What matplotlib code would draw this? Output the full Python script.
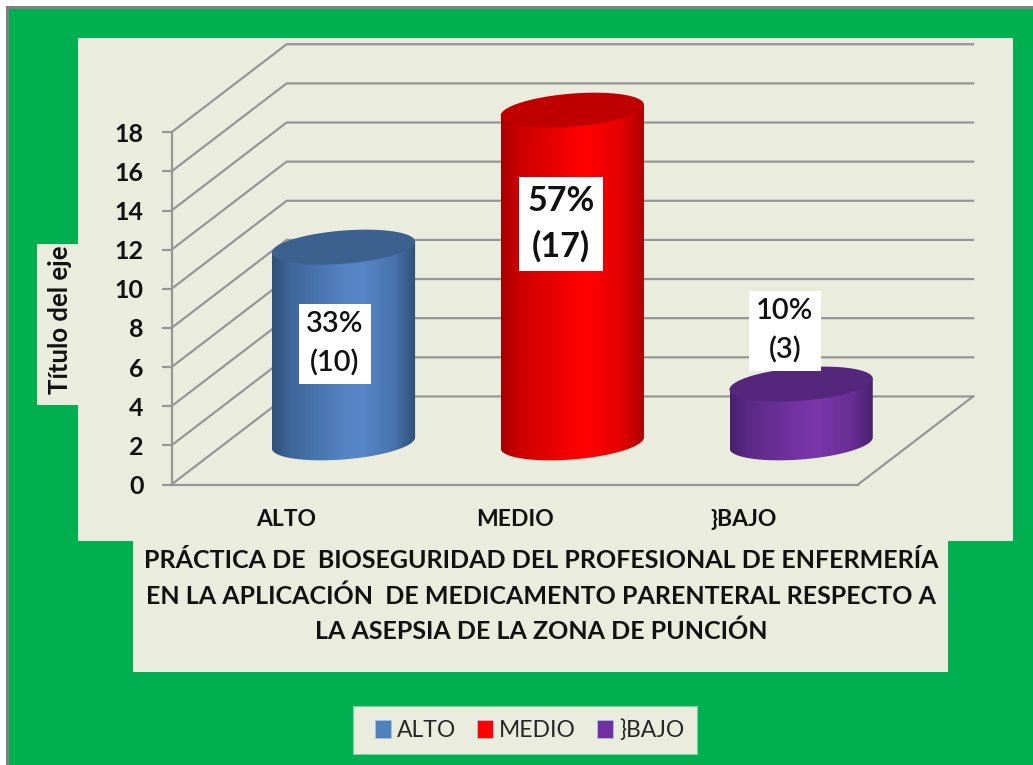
import numpy as np
import matplotlib
matplotlib.use("Agg")
import matplotlib.pyplot as plt
from matplotlib.patches import Rectangle, Polygon, Patch
from matplotlib.colors import to_rgb

categories = ["ALTO", "MEDIO", "}BAJO"]
values = [10, 17, 3]
percents = ["33%", "57%", "10%"]
body_edge = ["#2E5079", "#A80000", "#47206C"]
body_mid = ["#5687C8", "#FF0000", "#7A36AA"]
top_colors = ["#3C618F", "#C00000", "#54267C"]
legend_colors = ["#4F81BD", "#FF0000", "#7030A0"]
y_ticks = [0, 2, 4, 6, 8, 10, 12, 14, 16, 18]
x_title = ("PRÁCTICA DE  BIOSEGURIDAD DEL PROFESIONAL DE ENFERMERÍA\n"
           "EN LA APLICACIÓN  DE MEDICAMENTO PARENTERAL RESPECTO A\n"
           "LA ASEPSIA DE LA ZONA DE PUNCIÓN")
y_title = "Título del eje"

W, H = 1033, 765
GREEN, BEIGE, GREY = "#00B050", "#EAEDDD", "#969696"
plt.rcParams["font.family"] = ["Lato", "DejaVu Sans"]
fig = plt.figure(figsize=(W / 100, H / 100), dpi=100, facecolor="white")


def fx(px):
    return px / W


def fy(py):
    return 1 - py / H


def panel(x0, y0, x1, y1, color, z=-1, **kw):
    fig.add_artist(Rectangle((fx(x0), fy(y1)), (x1 - x0) / W, (y1 - y0) / H,
                             transform=fig.transFigure, facecolor=color,
                             edgecolor=kw.get("ec", "none"), linewidth=kw.get("lw", 0),
                             zorder=z))


panel(6.5, 7, W + 5, H + 5, GREEN, z=-5, ec="#808080", lw=2.2)
panel(78, 38, 1013, 541, BEIGE, z=-4)
panel(37, 244, 78, 405, BEIGE, z=-4)
panel(133, 541, 948, 672, BEIGE, z=-4)
panel(353, 706, 697, 754, BEIGE, z=-4, ec="#7FD0A0", lw=0.8)

AX_L, AX_R, AX_T, AX_B = 171.5, 858, 132.3, 484.5
ax = fig.add_axes([fx(AX_L), fy(AX_B), (AX_R - AX_L) / W, (AX_B - AX_T) / H])
ax.patch.set_visible(False)
ax.set_xlim(0, len(categories))
ax.set_ylim(0, 18)

# 3D-look constants in data units
DX, DY = 0.503, 4.5
for t in y_ticks:
    ax.plot([0, DX, len(categories) + DX], [t, t + DY, t + DY], color=GREY, lw=1.6,
            clip_on=False, zorder=1, solid_joinstyle="miter")
ax.plot([len(categories), len(categories) + DX], [0, DY], color=GREY, lw=1.6,
        clip_on=False, zorder=1)

for s in ["top", "right"]:
    ax.spines[s].set_visible(False)
for s in ["left", "bottom"]:
    ax.spines[s].set_color(GREY)
    ax.spines[s].set_linewidth(1.6)
ax.set_yticks(y_ticks)
ax.tick_params(axis="y", length=7, width=1.6, color=GREY, pad=13, labelsize=18, labelcolor="#111111")
ax.set_xticks(np.arange(len(categories)) + 0.5)
ax.set_xticklabels(categories)
ax.tick_params(axis="x", length=0, pad=18, labelsize=16.5, labelcolor="#111111")
for lab in ax.get_yticklabels() + ax.get_xticklabels():
    lab.set_fontweight("bold")

ax.set_ylabel(y_title, fontsize=18.5, fontweight="bold", color="#111111", va="center")
ax.yaxis.set_label_coords(fx(60), fy(320), transform=fig.transFigure)
ax.set_xlabel(x_title, fontsize=18, fontweight="bold", color="#111111", linespacing=1.62,
              ha="center", va="center")
ax.xaxis.set_label_coords(fx(541), fy(596), transform=fig.transFigure)

# cylinders
A, B, S = 0.313, 0.85, 0.28
BASE = 2.13
OFFS = DX / 2
for i, (v, e, m, tc) in enumerate(zip(values, body_edge, body_mid, top_colors)):
    cx = i + 0.5 + OFFS
    tt = np.linspace(0, 2 * np.pi, 200)
    ex = A * np.cos(tt)
    ey = S * np.cos(tt) + B * np.sin(tt)
    lower = tt >= np.pi
    order = np.argsort(ex[lower])
    bx, by = ex[lower][order], ey[lower][order]
    side = np.column_stack([
        np.r_[cx - A, cx + bx, cx + A],
        np.r_[BASE + v - S, BASE + by, BASE + v + S],
    ])
    poly = Polygon(side, closed=True, facecolor="none", edgecolor="none", clip_on=False, zorder=3)
    ax.add_patch(poly)
    stops = [0, 0.12, 0.5, 0.62, 0.85, 1]
    mix = [0.0, 0.4, 0.93, 1.0, 0.65, 0.0]
    frac = np.interp(np.linspace(0, 1, 256), stops, mix)
    ce, cm = np.array(to_rgb(e)), np.array(to_rgb(m))
    grad = (ce[None, :] * (1 - frac[:, None]) + cm[None, :] * frac[:, None])[None, :, :]
    im = ax.imshow(grad, extent=[cx - A, cx + A, BASE - 2, BASE + v + 2], aspect="auto",
                   zorder=3, interpolation="bilinear")
    im.set_clip_path(poly)
    im.set_clip_box(fig.bbox)
    ax.add_patch(Polygon(np.column_stack([cx + ex, BASE + v + ey]), closed=True,
                         facecolor=tc, edgecolor="none", clip_on=False, zorder=4))
ax.set_xlim(0, len(categories))
ax.set_ylim(0, 18)

# data labels
label_pos = [(335, 344), (561, 224), (785, 331)]
for (px, py), p, v, big in zip(label_pos, percents, values, [False, True, False]):
    ax.text(fx(px), fy(py), f"{p}\n({v})", transform=fig.transFigure, ha="center", va="center",
            fontsize=24.5 if big else 21, fontweight="bold" if big else "semibold", color="#111111",
            linespacing=1.5 if big else 1.56, zorder=10,
            bbox=dict(boxstyle="square,pad=0.25", facecolor="white", edgecolor="none"))

# legend
handles = [Patch(facecolor=c, edgecolor="#A9C1DE", linewidth=0.6, label=n)
           for c, n in zip(legend_colors, categories)]
fig.legend(handles=handles, ncol=3, loc="center", bbox_to_anchor=(fx(529.5), fy(730)),
           fontsize=16.5, frameon=False, handlelength=0.7, handleheight=0.8, handletextpad=0.27,
           columnspacing=0.9, borderpad=0.55, labelcolor="#262626")

fig.savefig("out.png", dpi=100, facecolor=fig.get_facecolor())
